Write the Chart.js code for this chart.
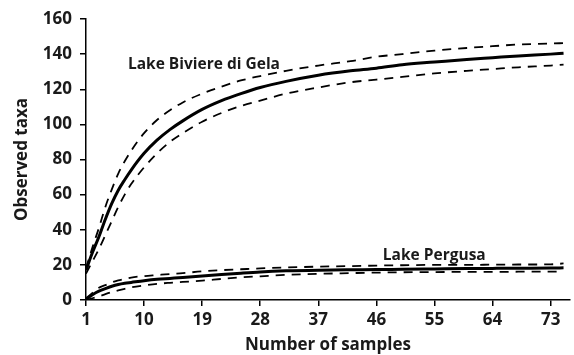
<!DOCTYPE html>
<html>
<head>
<meta charset="utf-8">
<script src="https://cdn.jsdelivr.net/npm/chart.js@4"></script>
<style>
  body { margin: 0; background: #fff; }
  #wrap { width: 574px; height: 355px; }
</style>
</head>
<body>
<div id="wrap"><canvas id="taxaChart"></canvas></div>
<script>
const samples = [1, 2, 3, 4, 5, 6, 7, 8, 10, 12, 14, 16, 19, 22, 25, 28, 32, 37, 42, 46, 50, 55, 60, 64, 68, 73, 75];

const bivMean  = [17, 27, 36, 46, 55, 62.5, 68.5, 74, 83.5, 91, 97, 102, 108.5, 113.5, 117.5, 121, 124.5, 128, 130.5, 132, 134, 135.5, 137, 138, 139, 140, 140.5];
const bivUpper = [18, 30, 41, 53, 63, 72, 79, 85, 95, 102.5, 108, 112.5, 117.5, 121.5, 125, 127.5, 130.5, 133.5, 136, 138.5, 140, 142, 143.5, 144.5, 145.5, 146, 146.3];
const bivLower = [15, 22, 29, 37, 45, 53, 60, 66, 75.5, 83.5, 90, 95, 101.5, 106.5, 110.5, 113.5, 117.5, 121, 124, 125.5, 127, 129, 130.5, 131.5, 132.5, 133.5, 134];

const perMean  = [0.5, 3, 5, 6.5, 7.8, 8.8, 9.5, 10, 11, 11.8, 12.3, 12.8, 13.6, 14.5, 15.3, 16, 16.6, 17, 17.2, 17.3, 17.5, 17.7, 17.9, 18, 18.1, 18.2, 18.3];
const perUpper = [1, 4, 7, 8.5, 10, 11.2, 12, 12.8, 13.6, 14.2, 14.8, 15.3, 16.3, 17, 17.5, 18, 18.5, 19, 19.3, 19.6, 19.8, 20, 20, 20.1, 20.2, 20.3, 20.8];
const perLower = [0, 1, 2, 3.3, 4.5, 5.5, 6.4, 7.2, 8.3, 9.2, 9.8, 10.3, 11, 12, 12.9, 13.5, 14.3, 14.9, 15.3, 15.6, 15.8, 15.9, 16, 16, 16.1, 16.2, 16.2];

const xTicks = [1, 10, 19, 28, 37, 46, 55, 64, 73];

// curve labels, anchored in data units (sample, taxa)
const curveLabels = [
  { text: "Lake Biviere di Gela", x: 7.5, y: 134 },
  { text: "Lake Pergusa", x: 47, y: 25.5 },
];

const FONT = "'Open Sans', sans-serif";

function pts(vals) {
  return vals.map((v, i) => ({ x: samples[i], y: v }));
}

function solid(vals) {
  return { data: pts(vals), borderColor: "#000", borderWidth: 3, pointRadius: 0, fill: false, cubicInterpolationMode: "monotone" };
}

function dashed(vals) {
  return { data: pts(vals), borderColor: "#000", borderWidth: 1.8, borderDash: [9, 7], pointRadius: 0, fill: false, cubicInterpolationMode: "monotone" };
}

const curveLabelPlugin = {
  id: "curveLabels",
  afterDatasetsDraw(chart) {
    const ctx = chart.ctx;
    ctx.save();
    ctx.font = "bold 15.5px " + FONT;
    ctx.fillStyle = "#1a1a1a";
    ctx.textBaseline = "middle";
    ctx.textAlign = "left";
    curveLabels.forEach(l => {
      ctx.fillText(l.text, chart.scales.x.getPixelForValue(l.x), chart.scales.y.getPixelForValue(l.y));
    });
    ctx.restore();
  }
};

const taxaChartConfig = {
  type: "line",
  data: {
    datasets: [
      solid(bivMean), dashed(bivUpper), dashed(bivLower),
      solid(perMean), dashed(perUpper), dashed(perLower),
    ],
  },
  options: {
    responsive: true,
    maintainAspectRatio: false,
    animation: false,
    layout: { padding: { top: 19, right: 4, left: 0, bottom: 0 } },
    plugins: {
      legend: { display: false },
      tooltip: { enabled: false },
    },
    scales: {
      x: {
        type: "linear",
        min: 1,
        max: 76,
        afterBuildTicks: (s) => { s.ticks = xTicks.map(v => ({ value: v })); },
        afterFit: (s) => { s.height = 55; },
        grid: { drawOnChartArea: false, drawTicks: true, tickLength: 6, color: "#000", lineWidth: 1.5 },
        border: { color: "#000", width: 1.5 },
        ticks: { color: "#1a1a1a", font: { family: FONT, size: 17, weight: "bold" }, padding: 4, maxRotation: 0 },
        title: { display: true, text: "Number of samples", color: "#1a1a1a", font: { family: FONT, size: 17, weight: "bold" }, padding: { top: 1, bottom: 0 } },
      },
      y: {
        min: 0,
        max: 160,
        afterFit: (s) => { s.width = 86; },
        grid: { drawOnChartArea: false, drawTicks: true, tickLength: 6, color: "#000", lineWidth: 1.5 },
        border: { color: "#000", width: 1.5 },
        ticks: { stepSize: 20, color: "#1a1a1a", font: { family: FONT, size: 17, weight: "bold" }, padding: 8 },
        title: { display: true, text: "Observed taxa", color: "#1a1a1a", font: { family: FONT, size: 17, weight: "bold" }, padding: { top: 12, bottom: 0 } },
      },
    },
  },
  plugins: [curveLabelPlugin],
};

const taxaChart = new Chart(document.getElementById("taxaChart"), taxaChartConfig);
</script>
</body>
</html>
